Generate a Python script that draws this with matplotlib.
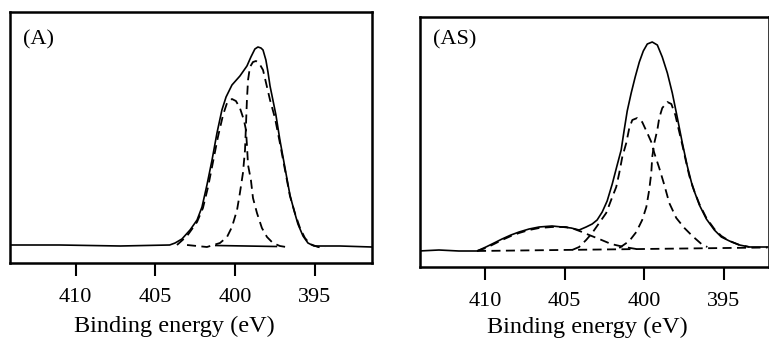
"""N 1s XPS spectra of samples A and AS, with fitted component peaks."""

import matplotlib
matplotlib.use("Agg")
import matplotlib.pyplot as plt

# ---- panel (A): binding energy (eV) and intensity (a.u.)
a_total_ev = [414.1, 411.0, 407.2, 404.1, 403.76, 403.33, 402.82, 402.38, 402.07,
              401.76, 401.44, 401.13, 400.82, 400.56, 400.19, 399.69, 399.25,
              399.0, 398.75, 398.56, 398.37, 398.24, 398.06, 397.93, 397.8,
              397.62, 397.43, 397.18, 396.86, 396.55, 396.3, 396.05, 395.73,
              395.42, 395.04, 393.41, 391.4]
a_total = [1.5, 1.5, 0.5, 1.5, 3.5, 7.5, 16.5, 26.5, 39.5, 61.5, 86.5, 113.5,
           136.5, 149.5, 161.5, 170.5, 180.5, 189.5, 197.5, 199.5, 198.5, 196.5,
           186.5, 174.5, 160.5, 146.5, 131.5, 106.5, 78.5, 51.5, 36.5, 22.5,
           10.5, 3.5, 0.5, 0.5, -0.5]

a_peak1_ev = [403.64, 403.01, 402.38, 402.01, 401.69, 401.38, 401.07, 400.75,
              400.5, 400.19, 399.94, 399.69, 399.44, 399.31, 399.25, 399.18,
              399.0, 398.87, 398.62, 398.31, 397.99, 397.62, 397.18, 396.6]
a_peak1 = [1.5, 10.5, 24.5, 38.5, 59.5, 84.5, 109.5, 131.5, 143.5, 147.5, 145.5,
           138.5, 126.5, 116.5, 101.5, 81.5, 66.5, 48.5, 33.5, 18.5, 9.5, 3.5,
           0.5, -1.0]

a_peak2_ev = [403.01, 401.76, 400.94, 400.5, 400.19, 399.87, 399.69, 399.5,
              399.37, 399.31, 399.25, 399.18, 399.06, 398.87, 398.68, 398.49,
              398.24, 397.99, 397.8, 397.49, 397.18, 396.86, 396.55, 396.24,
              395.92, 395.61, 395.29, 394.79, 394.35]
a_peak2 = [1.5, -0.5, 3.5, 9.5, 19.5, 36.5, 53.5, 73.5, 96.5, 121.5, 146.5,
           166.5, 179.5, 184.5, 185.5, 183.5, 176.5, 159.5, 146.5, 128.5, 103.5,
           76.5, 50.5, 33.5, 18.5, 8.5, 2.5, -0.5, -1.5]

a_bg_ev = [401.2, 397.4]
a_bg = [1.0, 0.0]

# ---- panel (AS)
as_total_ev = [414.15, 412.89, 411.64, 410.5, 409.94, 409.43, 408.93, 408.37,
               407.86, 407.23, 406.6, 405.79, 405.16, 404.59, 404.09, 403.65,
               403.27, 402.96, 402.64, 402.33, 402.01, 401.7, 401.45, 401.26,
               401.07, 400.82, 400.57, 400.31, 400.06, 399.81, 399.5, 399.18,
               398.87, 398.55, 398.24, 397.92, 397.61, 397.3, 396.98, 396.54,
               396.1, 395.6, 395.16, 394.65, 394.02, 393.4, 392.26]
as_total = [0, 1, 0, 0, 4, 8, 12, 16, 19, 22, 24, 25, 24, 23, 21, 24, 27, 31, 39,
            50, 67, 86, 101, 121, 140, 158, 174, 189, 200, 207, 209, 206, 194,
            178, 158, 133, 108, 85, 65, 46, 32, 21, 14, 10, 6, 4, 4]

as_hump_ev = [410.5, 409.94, 409.43, 408.93, 408.37, 407.86, 407.23, 406.6,
              405.79, 404.91, 404.4, 403.9, 403.46, 402.83, 402.08, 401.26,
              400.5]
as_hump = [0, 3, 7, 11, 15, 18, 21, 23, 24, 24, 22, 19, 16, 12, 7, 4, 2]

as_peak1_ev = [404.53, 404.09, 403.65, 403.27, 402.83, 402.39, 402.08, 401.76,
               401.57, 401.38, 401.13, 400.94, 400.75, 400.44, 400.13, 399.81,
               399.56, 399.37, 399.06, 398.74, 398.43, 397.99, 397.48, 396.98,
               396.41, 396.04]
as_peak1 = [1, 4, 11, 18, 28, 38, 51, 64, 78, 94, 108, 123, 131, 133, 129, 118,
            109, 98, 83, 66, 48, 33, 23, 15, 7, 4]

as_peak2_ev = [401.57, 400.94, 400.5, 400.13, 399.87, 399.69, 399.56, 399.5,
               399.37, 399.18, 399.06, 398.87, 398.55, 398.3, 398.05, 397.86,
               397.61, 397.36, 397.17, 396.86, 396.54, 396.1, 395.6, 395.16,
               394.65, 394.02, 393.4]
as_peak2 = [3, 10, 19, 31, 44, 61, 78, 94, 108, 121, 133, 143, 149, 147, 136,
            123, 106, 88, 75, 60, 47, 33, 22, 15, 10, 6, 4]

as_bg_ev = [410.5, 392.26]
as_bg = [0.0, 3.5]

ticks = [410, 405, 400, 395]

plt.rcParams["font.family"] = ["Liberation Serif", "DejaVu Serif"]

fig = plt.figure(figsize=(7.69, 3.39), dpi=100)
ax1 = fig.add_axes([10 / 769, 1 - 263 / 339, 362 / 769, 251 / 339])
ax2 = fig.add_axes([420 / 769, 1 - 267 / 339, 348.5 / 769, 250 / 339])

solid = dict(color="black", lw=1.2)
dash = dict(color="black", lw=1.3, ls=(0, (5, 3)))

ax1.plot(a_total_ev, a_total, **solid)
ax1.plot(a_bg_ev, a_bg, **solid)
ax1.plot(a_peak1_ev, a_peak1, **dash)
ax1.plot(a_peak2_ev, a_peak2, **dash)
ax1.set_xlim(414.12, 391.4)
ax1.set_ylim(-16.5, 234.5)
ax1.text(0.036, 0.888, "(A)", transform=ax1.transAxes, fontsize=16, va="center")

ax2.plot(as_total_ev, as_total, **solid)
ax2.plot(as_bg_ev, as_bg, **dash)
ax2.plot(as_hump_ev, as_hump, **dash)
ax2.plot(as_peak1_ev, as_peak1, **dash)
ax2.plot(as_peak2_ev, as_peak2, **dash)
ax2.set_xlim(414.08, 392.2)
ax2.set_ylim(-16, 234)
ax2.text(0.037, 0.908, "(AS)", transform=ax2.transAxes, fontsize=16, va="center")

for ax in (ax1, ax2):
    ax.set_xticks(ticks)
    ax.set_yticks([])
    ax.tick_params(axis="x", direction="out", length=9, width=1.5, pad=9,
                   labelsize=16)
    ax.set_xlabel("Binding energy (eV)", fontsize=17.5)
    for s in ax.spines.values():
        s.set_linewidth(1.8)

# label positions (after set_xlabel, which resets x)
ax1.xaxis.set_label_coords(0.454, -0.212)
ax2.xaxis.set_label_coords(0.48, -0.198)

fig.savefig("out.png", dpi=100)
